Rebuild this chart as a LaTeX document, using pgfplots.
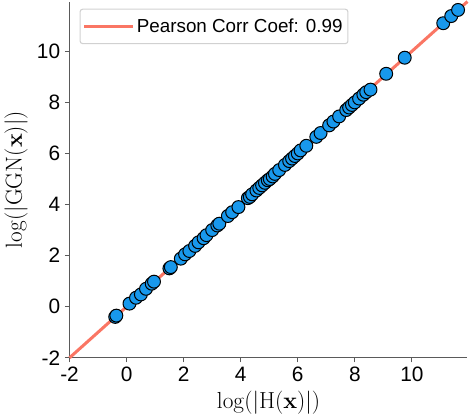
\documentclass[border=0pt]{standalone}
\usepackage[no-math]{fontspec}
\usepackage{pgfplots}
\pgfplotsset{compat=1.18}
\newfontfamily\sans{Liberation Sans}
\definecolor{corrline}{RGB}{250,118,100}
\definecolor{ptfill}{RGB}{24,152,236}
\definecolor{spine}{RGB}{90,90,90}
\begin{document}
\begin{tikzpicture}
\begin{axis}[
  scale only axis,
  width=296pt, height=265pt,
  xmin=-2, xmax=11.95, ymin=-2, ymax=11.95,
  axis x line*=bottom, axis y line*=left,
  axis line style={spine, line width=0.9pt},
  tick style={spine, line width=0.9pt},
  tick align=outside, major tick length=3.5pt,
  xtick={-2,0,2,4,6,8,10}, xticklabels={-2,0,2,4,6,8,10},
  ytick={-2,0,2,4,6,8,10}, yticklabels={-2,0,2,4,6,8,10},
  ticklabel style={font=\sans\fontsize{15.5}{17}\selectfont},
  xticklabel style={yshift=0pt},
  xlabel={$\log(|\mathrm{H}(\mathbf{x})|)$},
  ylabel={$\log(|\mathrm{GGN}(\mathbf{x})|)$},
  label style={font=\fontsize{16.5}{18}\selectfont},
  xlabel style={yshift=0pt},
  ylabel style={yshift=0pt},
  clip=false,
  legend style={at={(0.025,0.98)}, anchor=north west, draw=black!18, rounded corners=2pt,
    font=\sans\fontsize{14}{16}\selectfont, inner xsep=2pt, inner ysep=5pt, line width=0.8pt},
  legend cell align=left,
  legend image code/.code={\path (0pt,0pt) -- (36pt,0pt); \draw[#1, line width=2.25pt] (0pt,0pt) -- (31pt,0pt);},
]
\addplot[corrline, line width=2.25pt] coordinates {(-2,-2) (11.95,11.95)};
\addlegendentry{Pearson Corr Coef: 0.99}
\addplot[only marks, mark=*, mark size=4.8pt, mark options={fill=ptfill, draw=black, line width=0.75pt}, forget plot] table {
x y
-0.40 -0.40
-0.36 -0.35
0.10 0.12
0.33 0.35
0.50 0.48
0.68 0.70
0.88 0.90
0.96 0.98
1.50 1.50
1.55 1.55
1.90 1.88
2.05 2.05
2.20 2.18
2.40 2.38
2.52 2.52
2.70 2.68
2.80 2.80
3.00 3.00
3.18 3.18
3.25 3.25
3.55 3.55
3.70 3.70
3.92 3.90
4.25 4.25
4.32 4.30
4.40 4.40
4.55 4.55
4.65 4.65
4.75 4.75
4.85 4.85
4.95 4.95
5.02 5.00
5.12 5.10
5.20 5.20
5.35 5.35
5.55 5.55
5.70 5.70
5.80 5.80
5.90 5.90
6.00 6.00
6.10 6.12
6.30 6.30
6.65 6.65
6.80 6.80
7.10 7.10
7.25 7.25
7.45 7.45
7.70 7.70
7.80 7.80
7.90 7.90
8.00 8.00
8.15 8.15
8.30 8.30
8.40 8.40
8.55 8.50
9.10 9.12
9.75 9.75
11.10 11.10
11.38 11.38
11.62 11.62
};
\end{axis}
\end{tikzpicture}
\end{document}
